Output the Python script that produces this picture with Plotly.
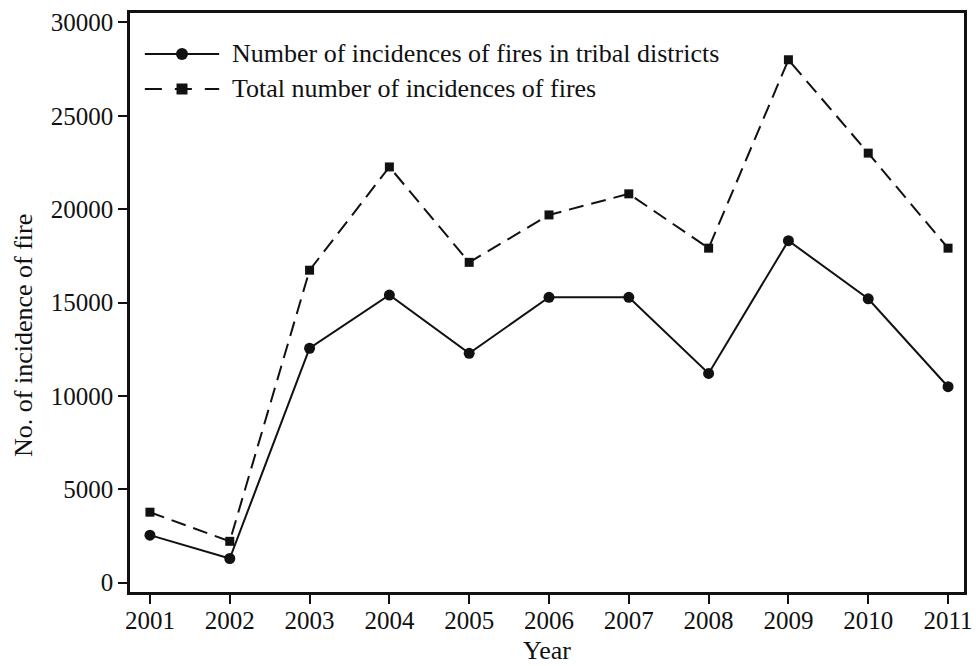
import plotly.graph_objects as go

# ---- data -------------------------------------------------------------
years = [2001, 2002, 2003, 2004, 2005, 2006, 2007, 2008, 2009, 2010, 2011]
tribal_fires = [2540, 1290, 12550, 15400, 12280, 15280, 15280, 11200, 18310, 15200, 10490]
total_fires = [3770, 2210, 16730, 22260, 17150, 19690, 20820, 17910, 28000, 23000, 17910]
series_names = [
    "Number of incidences of fires in tribal districts",
    "Total number of incidences of fires",
]
y_ticks = [0, 5000, 10000, 15000, 20000, 25000, 30000]
x_title = "Year"
y_title = "No. of incidence of fire"

# ---- layout constants ---------------------------------------------------
FONT = "Liberation Serif, Times New Roman, serif"
FS_TICK = 25
FS_TEXT = 26
INK = "#111111"
W, H = 976, 666
L, R, T, B = 130, 4, 13, 74
PW, PH = W - L - R, H - T - B


def paper(xp, yp):
    """Convert page pixels to paper coordinates."""
    return (xp - L) / PW, 1 - (yp - T) / PH


fig = go.Figure()

fig.add_trace(go.Scatter(
    x=years, y=tribal_fires, name=series_names[0], mode="lines+markers",
    line=dict(color=INK, width=2),
    marker=dict(symbol="circle", size=11, color=INK),
    showlegend=False,
))
fig.add_trace(go.Scatter(
    x=years, y=total_fires, name=series_names[1], mode="lines+markers",
    line=dict(color=INK, width=2, dash="15px,8px"),
    marker=dict(symbol="square", size=9, color=INK),
    showlegend=False,
))

# ---- legend drawn in the upper-left corner -----------------------------
shapes = []
annotations = []
legend_rows = [(54, "solid", "circle"), (89, "17px,13px", "square")]
for (yp, dash, sym), label in zip(legend_rows, series_names):
    x0, y0 = paper(145, yp)
    x1, _ = paper(220, yp)
    shapes.append(dict(type="line", xref="paper", yref="paper",
                       x0=x0, x1=x1, y0=y0, y1=y0,
                       line=dict(color=INK, width=2, dash=dash)))
    mx, my = paper(182.5, yp)
    half = 6 if sym == "circle" else 5.5
    shapes.append(dict(type="circle" if sym == "circle" else "rect",
                       xref="paper", yref="paper",
                       xsizemode="pixel", ysizemode="pixel",
                       xanchor=mx, yanchor=my,
                       x0=-half, x1=half, y0=-half, y1=half,
                       fillcolor=INK, line=dict(color=INK, width=0)))
    tx, ty = paper(231, yp)
    annotations.append(dict(xref="paper", yref="paper", x=tx, y=ty,
                            xanchor="left", yanchor="middle", showarrow=False,
                            text=label, font=dict(family=FONT, size=FS_TEXT, color=INK)))

# axis titles
ax_, ay_ = paper(22, 336)
annotations.append(dict(xref="paper", yref="paper", x=ax_, y=ay_,
                        xanchor="center", yanchor="middle", showarrow=False,
                        textangle=-90, text=y_title,
                        font=dict(family=FONT, size=FS_TEXT, color=INK)))
bx_, by_ = paper(551, 650)
annotations.append(dict(xref="paper", yref="paper", x=bx_, y=by_,
                        xanchor="center", yanchor="middle", showarrow=False,
                        text=x_title, font=dict(family=FONT, size=FS_TEXT, color=INK)))

axis_common = dict(
    showline=True, linecolor=INK, linewidth=2.5, mirror=True,
    showgrid=False, zeroline=False,
    ticks="outside", ticklen=9, tickwidth=2, tickcolor=INK,
    tickfont=dict(family=FONT, size=FS_TICK, color=INK),
    ticklabeloverflow="allow",
)

fig.update_layout(
    width=W, height=H,
    margin=dict(l=L, r=R, t=T, b=B),
    paper_bgcolor="white", plot_bgcolor="white",
    shapes=shapes, annotations=annotations,
    xaxis=dict(range=[2000.75, 2011.2], tickvals=years,
               ticktext=[str(y) for y in years], ticklabelstandoff=-5,
               **axis_common),
    yaxis=dict(range=[-504, 30504], tickvals=y_ticks,
               ticktext=[str(v) for v in y_ticks], **axis_common),
)

fig.write_html("out.html")
